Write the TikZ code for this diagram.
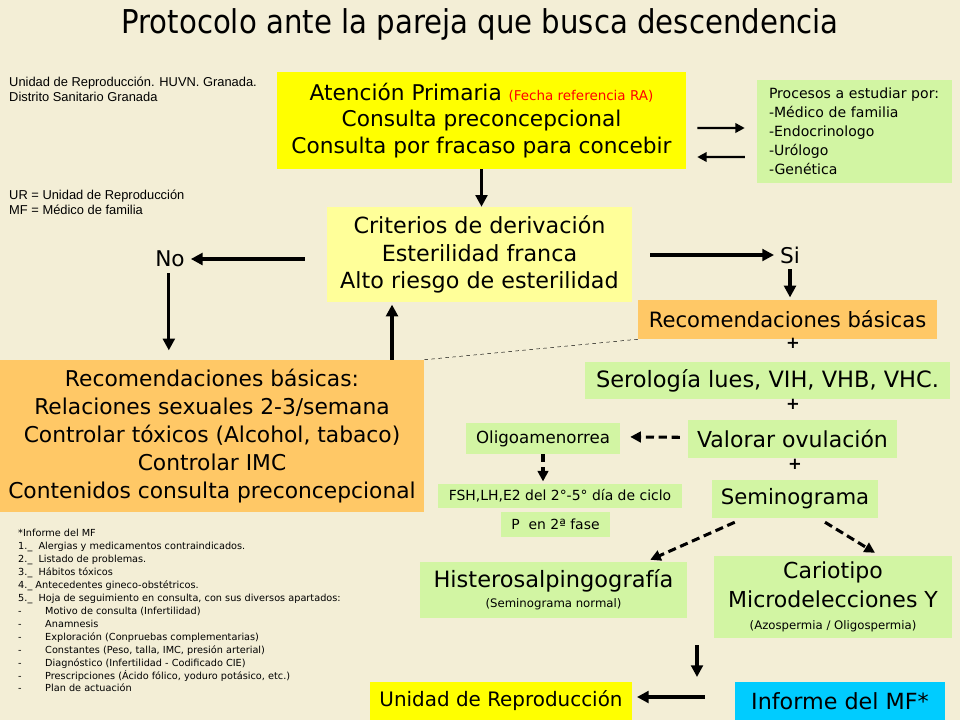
\documentclass[tikz,border=0pt]{standalone}
\usepackage{fontspec}
\setmainfont{DejaVu Sans}
\newfontfamily\arialfam{Liberation Sans}
\usetikzlibrary{arrows.meta}

\definecolor{fondo}{RGB}{243,238,214}
\definecolor{amarillo}{RGB}{255,255,0}
\definecolor{amarilloclaro}{RGB}{255,255,153}
\definecolor{naranja}{RGB}{255,200,102}
\definecolor{verde}{RGB}{210,245,163}
\definecolor{cian}{RGB}{0,204,255}

\tikzset{
  caja/.style={inner sep=0pt, align=center, font=\fontsize{18.5}{23.8}\selectfont},
  notas/.style={inner sep=0pt, anchor=north west, align=left, font=\arialfam\fontsize{11}{12.8}\selectfont},
  flecha/.style={line width=2.6pt, -{Triangle[length=10pt,width=10pt]}},
  discont/.style={line width=2.6pt, dash pattern=on 7pt off 4pt, -{Triangle[length=9pt,width=9pt]}},
  mas/.style={inner sep=0pt, font=\fontsize{14}{14}\selectfont\bfseries}
}

\begin{document}
\begin{tikzpicture}[x=0.03cm,y=-0.03cm]
\fill[fondo] (0,0) rectangle (960,720);
\useasboundingbox (0,0) rectangle (960,720);

% titulo y notas
\node (titulo) at (480,24) {\fontsize{28}{32}\selectfont\scalebox{0.89}[1]{Protocolo ante la pareja que busca descendencia}};
\node[notas] (centro) at (9,77) {Unidad de Reproducción. HUVN. Granada.\\Distrito Sanitario Granada};
\node[notas] (siglas) at (9,190) {UR = Unidad de Reproducción\\MF = Médico de familia};

% parte superior
\node[caja, fill=amarillo, minimum width=12.27cm, minimum height=2.91cm, font=\fontsize{18.5}{22.5}\selectfont] (aten) at (481.5,120.5)
  {Atención Primaria {\color{red}\fontsize{11.5}{12}\selectfont(Fecha referencia RA)}\\Consulta preconcepcional\\Consulta por fracaso para concebir};
\node[caja, fill=verde, minimum width=5.85cm, minimum height=3.09cm, text width=5.13cm, inner xsep=0.36cm, align=left, font=\fontsize{12}{16.2}\selectfont] (proc) at (854.5,131.5)
  {Procesos a estudiar por:\\-Médico de familia\\-Endocrinologo\\-Urólogo\\-Genética};
\draw[line width=2pt, -{Triangle[length=8pt,width=8pt]}] ([xshift=0.33cm,yshift=-0.225cm]aten.east) -- ([xshift=-0.36cm,yshift=0.105cm]proc.west);
\draw[line width=2pt, -{Triangle[length=8pt,width=8pt]}] ([xshift=-0.36cm,yshift=-0.765cm]proc.west) -- ([xshift=0.33cm,yshift=-1.095cm]aten.east);

\node[caja, fill=amarilloclaro, minimum width=9.15cm, minimum height=2.85cm, font=\fontsize{19}{23.8}\selectfont] (crit) at (479.5,254.5)
  {Criterios de derivación\\Esterilidad franca\\Alto riesgo de esterilidad};
\draw[flecha] (aten.south) -- (aten.south |- crit.north);

\node[caja, inner sep=5pt] (no) at (170,259) {No};
\node[caja, inner sep=5pt] (si) at (790,255) {Si};
\draw[flecha] ([xshift=-0.66cm]crit.west |- no.east) -- (no.east);
\draw[flecha] ([xshift=0.54cm]crit.east |- si.west) -- (si.west);

% rama izquierda
\node[caja, fill=naranja, minimum width=12.72cm, minimum height=4.56cm, font=\fontsize{18.6}{23.8}\selectfont] (recizq) at (212,436)
  {Recomendaciones básicas:\\Relaciones sexuales 2-3/semana\\Controlar tóxicos (Alcohol, tabaco)\\Controlar IMC\\Contenidos consulta preconcepcional};
\draw[flecha, shorten >=8pt] ([xshift=-1pt]no.south) -- ([xshift=-1pt]no.south |- recizq.north);
\draw[flecha, shorten >=2pt] ([xshift=5.4cm]recizq.north) -- ([xshift=5.4cm]recizq.north |- crit.south);

% rama derecha
\node[caja, fill=naranja, minimum width=8.97cm, minimum height=1.17cm, font=\fontsize{18}{20}\selectfont] (recder) at (787.5,319.5) {Recomendaciones básicas};
\draw[flecha, shorten >=2pt] (si) -- (si |- recder.north);
\draw[dashed, thin] (recder.south west) -- (recizq.north east);

\node[caja, fill=verde, minimum width=10.95cm, minimum height=1.11cm, font=\fontsize{19.2}{20}\selectfont] (sero) at (767.5,380.5) {Serología lues, VIH, VHB, VHC.};
\node[caja, fill=verde, minimum width=6.27cm, minimum height=1.14cm, font=\fontsize{18.8}{20}\selectfont] (valorar) at (792.5,439) {Valorar ovulación};
\node[caja, fill=verde, minimum width=4.98cm, minimum height=1.14cm, font=\fontsize{18.1}{20}\selectfont] (semin) at (795,499) {Seminograma};
\node[mas] (mas1) at (793,343) {+};
\node[mas] (mas2) at (793,404) {+};
\node[mas] (mas3) at (795,464) {+};

\node[caja, fill=verde, minimum width=4.62cm, minimum height=0.93cm, font=\fontsize{14.2}{15}\selectfont] (oligo) at (543,438.5) {Oligoamenorrea};
\node[caja, fill=verde, minimum width=7.32cm, minimum height=0.72cm, font=\fontsize{11.9}{12}\selectfont] (fsh) at (560,496) {FSH,LH,E2 del 2°-5° día de ciclo};
\node[caja, fill=verde, minimum width=3.27cm, minimum height=0.75cm, font=\fontsize{11.9}{12}\selectfont] (fase) at (555.5,524.5) {P\ \ en 2ª fase};
\draw[discont, shorten <=0.24cm, shorten >=0.3cm] ([yshift=0.05cm]valorar.west) -- ([yshift=0.05cm]oligo.east);
\draw[discont, shorten >=2pt] (oligo.south) -- (oligo.south |- fsh.north);

\node[caja, fill=verde, minimum width=8.01cm, minimum height=1.68cm, font=\fontsize{19.2}{20}\selectfont] (histero) at (553.5,590)
  {Histerosalpingografía\\[-3pt]{\fontsize{10}{10}\selectfont(Seminograma normal)}};
\node[caja, fill=verde, minimum width=7.14cm, minimum height=2.46cm, font=\fontsize{18.8}{24.6}\selectfont] (cario) at (833,597)
  {Cariotipo\\Microdelecciones Y\\[-6pt]{\fontsize{10}{10}\selectfont(Azospermia / Oligospermia)}};
\draw[discont] ([xshift=0.69cm,yshift=-0.12cm]semin.south west) -- ([xshift=-1.11cm,yshift=0.06cm]histero.north east);
\draw[discont] ([xshift=0.9cm,yshift=-0.12cm]semin.south) -- ([xshift=1.26cm,yshift=0.09cm]cario.north);

% parte inferior
\node[caja, fill=amarillo, minimum width=7.86cm, minimum height=1.14cm, font=\fontsize{17}{20}\selectfont] (unidad) at (501,701) {Unidad de Reproducción};
\node[caja, fill=cian, minimum width=6.3cm, minimum height=1.14cm, font=\fontsize{19}{20}\selectfont] (informe) at (840,701) {Informe del MF*};
\coordinate (baja1) at (697,645);
\coordinate (baja2) at (697,677);
\draw[flecha] (baja1) -- (baja2);
\draw[flecha, shorten <=0.9cm, shorten >=4pt] ([yshift=0.12cm]informe.west) -- ([yshift=0.12cm]unidad.east);

\node[inner sep=0pt, anchor=north west, align=left, font=\fontsize{8.3}{11.05}\selectfont] (lista) at (18,529)
  {*Informe del MF\\
   1.\_ \ Alergias y medicamentos contraindicados.\\
   2.\_ \ Listado de problemas.\\
   3.\_ \ Hábitos tóxicos\\
   4.\_ Antecedentes gineco-obstétricos.\\
   5.\_ \ Hoja de seguimiento en consulta, con sus diversos apartados:\\
   \makebox[0.81cm][l]{-}Motivo de consulta (Infertilidad)\\
   \makebox[0.81cm][l]{-}Anamnesis\\
   \makebox[0.81cm][l]{-}Exploración (Conpruebas complementarias)\\
   \makebox[0.81cm][l]{-}Constantes (Peso, talla, IMC, presión arterial)\\
   \makebox[0.81cm][l]{-}Diagnóstico (Infertilidad - Codificado CIE)\\
   \makebox[0.81cm][l]{-}Prescripciones (Ácido fólico, yoduro potásico, etc.)\\
   \makebox[0.81cm][l]{-}Plan de actuación};
\end{tikzpicture}
\end{document}
